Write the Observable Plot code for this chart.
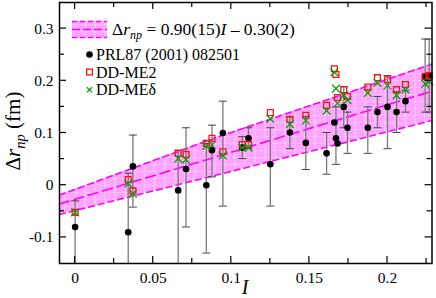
<!DOCTYPE html>
<html>
<head>
<meta charset="utf-8">
<script src="https://cdn.jsdelivr.net/npm/d3@7"></script>
<script src="https://cdn.jsdelivr.net/npm/@observablehq/plot@0.6"></script>
<style>
  html, body { margin: 0; padding: 0; background: white; }
  svg { display: block; }
</style>
</head>
<body>
<div id="chart"></div>
<script>
// ---- data ----
const isospin = [0, 0.034, 0.037, 0.066, 0.071, 0.084, 0.0876, 0.0946, 0.107, 0.111, 0.125, 0.1375, 0.1477, 0.161, 0.166, 0.167, 0.168, 0.172, 0.1744, 0.1874, 0.1936, 0.200, 0.2058, 0.2115, 0.2241, 0.2267];
const prlValues = [-0.080, -0.090, 0.036, -0.010, 0.031, 0.000, 0.067, 0.100, 0.072, 0.090, 0.040, 0.101, 0.081, 0.061, 0.120, 0.090, 0.080, 0.150, 0.110, 0.110, 0.140, 0.150, 0.140, 0.161, 0.208, 0.210];
const prlLow  = [-0.20, -0.21, -0.042, -0.20, -0.080, -0.130, 0.016, -0.040, 0.051, 0.070, -0.040, 0.070, 0.030, 0.021, null, 0.040, null, 0.110, 0.061, 0.061, 0.110, 0.070, 0.101, 0.140, 0.140, 0.140];
const prlHigh = [-0.030, 0.023, 0.096, 0.067, 0.110, 0.080, 0.115, 0.161, 0.093, 0.110, 0.110, 0.131, 0.132, 0.101, null, 0.150, null, 0.189, 0.140, 0.150, 0.170, 0.210, 0.179, 0.182, 0.280, 0.280];
const me2Values = [-0.052, 0.011, -0.011, 0.061, 0.059, 0.080, 0.090, 0.064, 0.078, 0.078, 0.139, 0.126, 0.134, 0.153, 0.223, 0.212, 0.168, 0.183, 0.170, 0.188, 0.206, 0.202, 0.183, 0.193, 0.208, 0.210];
const medValues = [-0.052, 0.003, -0.016, 0.051, 0.049, 0.075, 0.077, 0.057, 0.072, 0.072, 0.127, 0.117, 0.124, 0.143, 0.216, 0.185, 0.157, 0.172, 0.163, 0.177, 0.196, 0.191, 0.172, 0.183, 0.194, 0.199];

// fit band
const bandI = [-0.01, 0.09, 0.2285];
const bandUpper = [-0.019, 0.091, 0.232];
const bandCenter = [-0.036, 0.054, 0.180];
const bandLower = [-0.056, 0.019, 0.124];

const xTicks = [0, 0.05, 0.1, 0.15, 0.2];
const xTickLabels = ["0", "0.05", "0.1", "0.15", "0.2"];
const yTicks = [-0.1, 0, 0.1, 0.2, 0.3];
const yTickLabels = ["-0.1", "0", "0.1", "0.2", "0.3"];
const xMinorTicks = [0.025, 0.075, 0.125, 0.175, 0.225];
const yMinorTicks = [-0.05, 0.05, 0.15, 0.25];

const legendLabels = ["PRL87 (2001) 082501", "DD-ME2", "DD-MEδ"];

// ---- tables ----
const prl = isospin.map((I, i) => ({I, v: prlValues[i], lo: prlLow[i], hi: prlHigh[i]}));
const errs = prl.filter(d => d.lo != null);
const me2 = isospin.map((I, i) => ({I, v: me2Values[i]}));
const med = isospin.map((I, i) => ({I, v: medValues[i]}));
const band = bandI.map((I, i) => ({I, hi: bandUpper[i], c: bandCenter[i], lo: bandLower[i]}));

const MAG = "#ff00ff", RED = "#ff1010", GRN = "#109a10", ERR = "#7a7a7a";
const capSymbol = { draw(ctx, size) { const w = Math.sqrt(size / Math.PI); ctx.moveTo(-w, 0); ctx.lineTo(w, 0); } };

const fmtX = d => xTickLabels[xTicks.findIndex(t => Math.abs(t - d) < 1e-9)];
const fmtY = d => yTickLabels[yTicks.findIndex(t => Math.abs(t - d) < 1e-9)];

const plot = Plot.plot({
  width: 436, height: 298,
  marginLeft: 59, marginRight: 4.5, marginTop: 2, marginBottom: 35,
  x: {domain: [-0.01, 0.2285]},
  y: {domain: [-0.15, 0.35]},
  style: {fontFamily: "'Liberation Serif', 'DejaVu Serif', serif", fontSize: "15px", background: "white", color: "black"},
  marks: [
    Plot.areaY(band, {x: "I", y1: "lo", y2: "hi", fill: "url(#bandpat)"}),
    Plot.line(band, {x: "I", y: "hi", stroke: MAG, strokeWidth: 1.6, strokeDasharray: "6,4"}),
    Plot.line(band, {x: "I", y: "lo", stroke: MAG, strokeWidth: 1.6, strokeDasharray: "6,4"}),
    Plot.line(band, {x: "I", y: "c", stroke: MAG, strokeWidth: 1.6, strokeDasharray: "10,5"}),
    Plot.ruleX(errs, {x: "I", y1: "lo", y2: "hi", stroke: ERR, strokeWidth: 1.3, clip: true}),
    Plot.dot(errs, {x: "I", y: "lo", symbol: capSymbol, r: 4, stroke: "#444", strokeWidth: 1, clip: true}),
    Plot.dot(errs, {x: "I", y: "hi", symbol: capSymbol, r: 4, stroke: "#444", strokeWidth: 1, clip: true}),
    Plot.dot(prl, {x: "I", y: "v", r: 3.3, fill: "black", stroke: "none"}),
    Plot.dot(me2, {x: "I", y: "v", symbol: "square", r: 3.3, stroke: RED, strokeWidth: 1.3, fill: "none"}),
    Plot.dot(med, {x: "I", y: "v", symbol: "times", r: 3.6, stroke: GRN, strokeWidth: 1.3}),
    Plot.axisX({ticks: xTicks, tickSize: 0, tickPadding: 8, tickFormat: fmtX, label: null, fontSize: 15.5}),
    Plot.axisY({ticks: yTicks, tickSize: 0, tickPadding: 6, tickFormat: fmtY, label: null, fontSize: 15.5}),
    Plot.frame({stroke: "black", strokeWidth: 1.5})
  ]
});

const svg = d3.select(plot);
// pattern for the band
const defs = svg.insert("defs", ":first-child");
const pat = defs.append("pattern").attr("id", "bandpat").attr("patternUnits", "userSpaceOnUse")
  .attr("width", 10).attr("height", 7);
pat.append("rect").attr("width", 10).attr("height", 7).attr("fill", "#ffa4ff");
pat.append("line").attr("x1", 0).attr("x2", 10).attr("y1", 3.5).attr("y2", 3.5)
  .attr("stroke", "white").attr("stroke-opacity", 0.7).attr("stroke-width", 0.8).attr("stroke-dasharray", "1,1");
pat.append("line").attr("x1", 5).attr("x2", 5).attr("y1", 0).attr("y2", 7)
  .attr("stroke", "white").attr("stroke-opacity", 0.5).attr("stroke-width", 0.8);

// inward ticks on all four sides
const sx = plot.scale("x"), sy = plot.scale("y");
const frameL = 59, frameR = 436 - 4.5, frameT = 2, frameB = 298 - 35;
const tg = svg.append("g").attr("stroke", "black").attr("stroke-width", 1.2);
function xt(v, len) {
  const px = sx.apply(v);
  tg.append("line").attr("x1", px).attr("x2", px).attr("y1", frameB).attr("y2", frameB - len);
  tg.append("line").attr("x1", px).attr("x2", px).attr("y1", frameT).attr("y2", frameT + len);
}
function yt(v, len) {
  const py = sy.apply(v);
  tg.append("line").attr("y1", py).attr("y2", py).attr("x1", frameL).attr("x2", frameL + len);
  tg.append("line").attr("y1", py).attr("y2", py).attr("x1", frameR).attr("x2", frameR - len);
}
xTicks.forEach(v => xt(v, 7));
xMinorTicks.forEach(v => xt(v, 5));
yTicks.forEach(v => yt(v, 7));
yMinorTicks.forEach(v => yt(v, 5));

const FONT = "'Liberation Serif', 'DejaVu Serif', serif";
// axis labels
const ylab = svg.append("text").attr("transform", "translate(20,131) rotate(-90)")
  .attr("text-anchor", "middle").attr("font-family", FONT).attr("font-size", 21).attr("fill", "black");
ylab.append("tspan").text("Δ");
ylab.append("tspan").attr("font-style", "italic").text("r");
ylab.append("tspan").attr("font-style", "italic").attr("font-size", 14.5).attr("dy", 5).text("np");
ylab.append("tspan").attr("dy", -5).text(" (fm)");

svg.append("text").attr("x", 245).attr("y", 294).attr("text-anchor", "middle")
  .attr("font-family", FONT).attr("font-size", 20).attr("font-style", "italic").text("I");

// legend
const lg = svg.append("g").attr("font-family", FONT).attr("font-size", 16).attr("fill", "black").attr("text-anchor", "start");
lg.append("rect").attr("x", 72).attr("y", 21).attr("width", 35).attr("height", 17).attr("fill", "url(#bandpat)");
[21.5, 29.5, 37.5].forEach((yy, k) => lg.append("line").attr("x1", 72).attr("x2", 107).attr("y1", yy).attr("y2", yy)
  .attr("stroke", MAG).attr("stroke-width", 1.6).attr("stroke-dasharray", k === 1 ? "8,3" : "5,3"));
const ft = lg.append("text").attr("x", 112).attr("y", 35).attr("font-size", 17.5);
ft.append("tspan").text("Δ");
ft.append("tspan").attr("font-style", "italic").text("r");
ft.append("tspan").attr("font-style", "italic").attr("font-size", 12).attr("dy", 4).text("np");
ft.append("tspan").attr("dy", -4).text(" = 0.90(15)");
ft.append("tspan").attr("font-style", "italic").text("I");
ft.append("tspan").text(" – 0.30(2)");

const rows = [54.5, 72, 89.8];
lg.append("circle").attr("cx", 89.5).attr("cy", rows[0]).attr("r", 3.3).attr("fill", "black");
lg.append("rect").attr("x", 89.5 - 2.9).attr("y", rows[1] - 2.9).attr("width", 5.8).attr("height", 5.8)
  .attr("fill", "none").attr("stroke", RED).attr("stroke-width", 1.3);
lg.append("path").attr("d", `M${89.5-2.6},${rows[2]-2.6}L${89.5+2.6},${rows[2]+2.6}M${89.5-2.6},${rows[2]+2.6}L${89.5+2.6},${rows[2]-2.6}`)
  .attr("stroke", GRN).attr("stroke-width", 1.3);
legendLabels.forEach((t, i) => lg.append("text").attr("x", 96).attr("y", rows[i] + 5.5).text(t));

document.getElementById("chart").appendChild(plot);
</script>
</body>
</html>
